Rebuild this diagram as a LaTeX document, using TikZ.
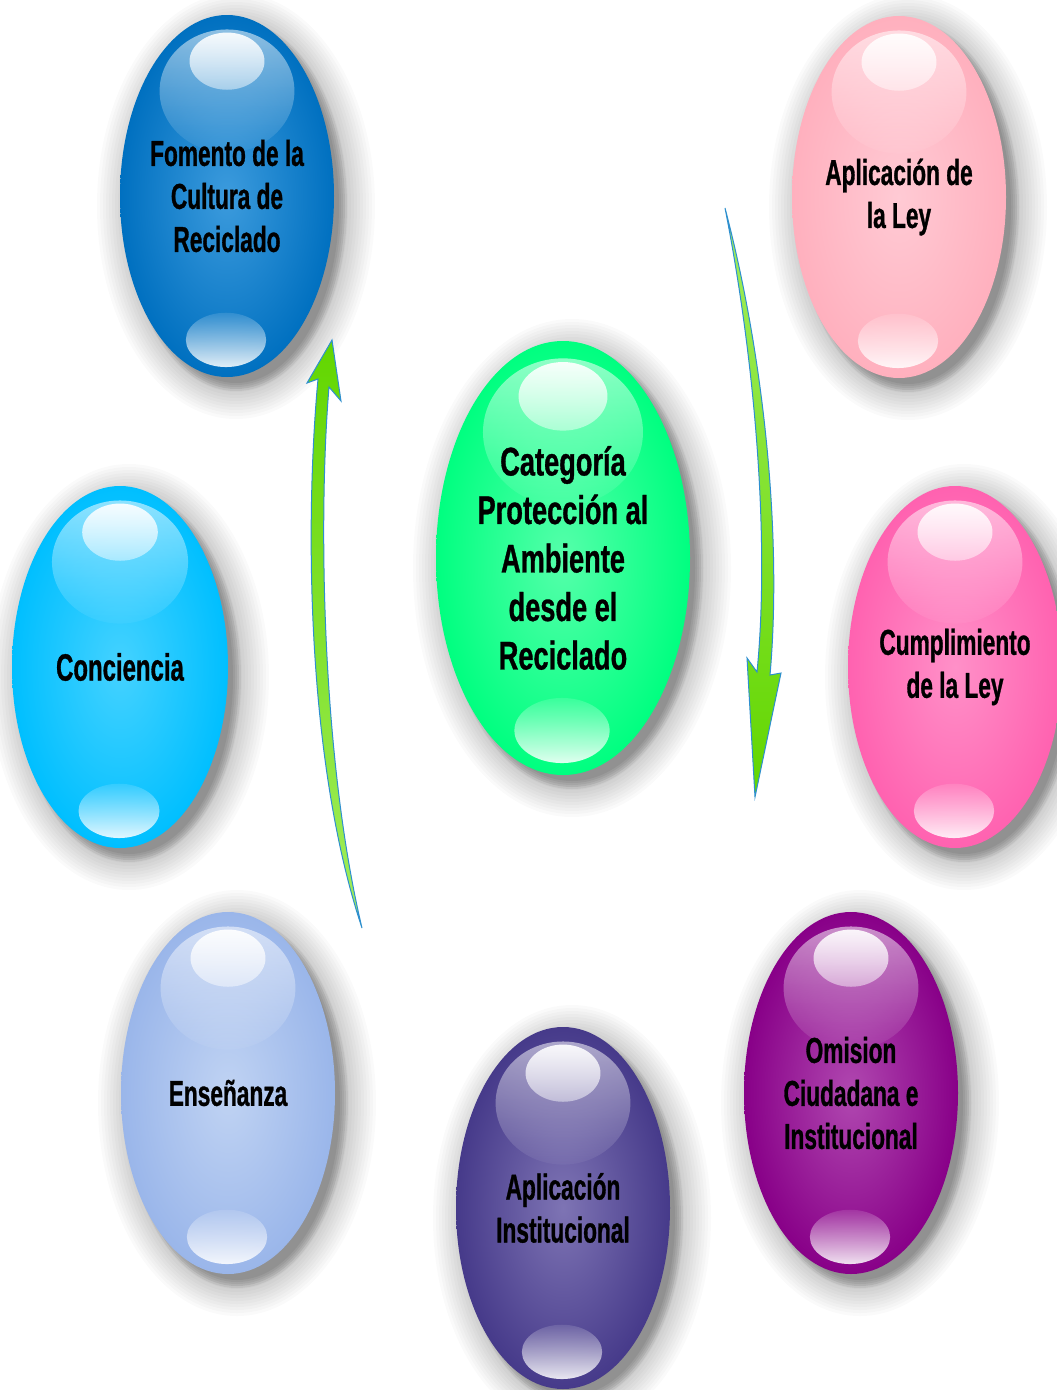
\documentclass[tikz,border=0pt]{standalone}
\usepackage{fontspec}
\newfontfamily\condfont{Liberation Sans}[FakeStretch=0.63, FakeBold=0.8]
\newfontfamily\corefont{Liberation Sans}[FakeStretch=0.68, FakeBold=0.8]
\usetikzlibrary{fadings}

% glossy highlight fadings
\tikzfading[name=glowtop,  top color=transparent!45, bottom color=transparent!96]
\tikzfading[name=glowcap,  top color=transparent!8,  bottom color=transparent!55]
\tikzfading[name=glowbase, top color=transparent!88, bottom color=transparent!12]

% bubble colours: rim / centre
\definecolor{fomE}{HTML}{0070C0}   \definecolor{fomC}{HTML}{3C9BDD}
\definecolor{leyE}{HTML}{FFB0BE}   \definecolor{leyC}{HTML}{FFCAD4}
\definecolor{conE}{HTML}{00BFFF}   \definecolor{conC}{HTML}{45D2FF}
\definecolor{coreE}{HTML}{00FF80}  \definecolor{coreC}{HTML}{55FFAA}
\definecolor{cumE}{HTML}{FF62B0}   \definecolor{cumC}{HTML}{FF90C8}
\definecolor{ensE}{HTML}{9AB6EA}   \definecolor{ensC}{HTML}{C0D3F3}
\definecolor{omiE}{HTML}{880088}   \definecolor{omiC}{HTML}{B048B0}
\definecolor{insE}{HTML}{463A8A}   \definecolor{insC}{HTML}{7E74B4}
\definecolor{arrowrim}{HTML}{2E8FD0}
\definecolor{arrowdark}{HTML}{62D600}
\definecolor{arrowlight}{HTML}{A2EE5C}

\tikzset{
  hazelayer/.style={fill=black, fill opacity=0.018},
  rimlayer/.style={fill=black, fill opacity=0.06},
  labeltext/.style={align=center, inner sep=0pt, text=black},
  smalltext/.style={labeltext, font=\condfont\bfseries\fontsize{36}{43}\selectfont},
  wordtext/.style={labeltext, font=\condfont\bfseries\fontsize{38}{43}\selectfont},
  coretext/.style={labeltext, font=\corefont\bfseries\fontsize{40}{48.5}\selectfont},
  arrowbody/.style={draw=arrowrim, line width=1pt, line join=miter},
}

% \bubble{name}{cx}{cy}{rx}{ry}{rim colour}{centre colour}{text style}{text}
\newcommand\bubble[9]{%
  % soft drop shadow: wide faint haze plus a darker rim
  \foreach \d in {32,29,...,2}{
    \fill[hazelayer] ({#2+9},{#3+10}) ellipse [x radius={#4+\d}, y radius={#5+\d}];
  }
  \foreach \d in {4,2,...,-4}{
    \fill[rimlayer] ({#2+9},{#3+10}) ellipse [x radius={#4+\d}, y radius={#5+\d}];
  }
  \shade[inner color=#7, outer color=#6] (#2,#3) ellipse [x radius=#4, y radius=#5];
  \fill[white, path fading=glowtop] ({#2},{#3-0.58*#5}) ellipse [x radius={0.63*#4}, y radius={0.34*#5}];
  \fill[white, path fading=glowcap] ({#2},{#3-0.745*#5}) ellipse [x radius={0.35*#4}, y radius={0.158*#5}];
  \fill[white, path fading=glowbase] ({#2-1},{#3+0.795*#5}) ellipse [x radius={0.375*#4}, y radius={0.15*#5}];
  \node[#8] (#1) at (#2,#3) {#9};
}

\begin{document}
\begin{tikzpicture}[x=1pt, y=-1pt]
  \useasboundingbox (0,0) rectangle (1057,1390);
  \fill[white] (0,0) rectangle (1057,1390);
  \clip (0,0) rectangle (1057,1390);

  \bubble{fomento}{227}{196}{107}{181}{fomE}{fomC}{smalltext}{Fomento de la\\Cultura de\\Reciclado}
  \bubble{aplley}{899}{197}{107}{181}{leyE}{leyC}{smalltext}{Aplicación de\\la Ley}
  \bubble{conciencia}{120}{667}{108}{181}{conE}{conC}{wordtext}{Conciencia}
  \bubble{core}{563}{558}{127}{217}{coreE}{coreC}{coretext}{Categoría\\Protección al\\Ambiente\\desde el\\Reciclado}
  \bubble{cumple}{955}{667}{107}{181}{cumE}{cumC}{smalltext}{Cumplimiento\\de la Ley}
  \bubble{ensenanza}{228}{1093}{107}{181}{ensE}{ensC}{smalltext}{Enseñanza}
  \bubble{omision}{851}{1093}{107}{181}{omiE}{omiC}{smalltext}{Omision\\Ciudadana e\\Institucional}
  \bubble{aplinst}{563}{1208}{107}{181}{insE}{insC}{smalltext}{Aplicación\\Institucional}

  % rising arrow on the left
  \coordinate (lt) at (362,928);
  \coordinate (lnr) at (329,387);
  \coordinate (lwr) at (341,401);
  \coordinate (ltip) at (332,340);
  \coordinate (lwl) at (307,383);
  \coordinate (lnl) at (318,379);
  \path[arrowbody, top color=arrowdark, bottom color=arrowlight]
    (lt) .. controls (322,760) and (318,520) .. (lnr) -- (lwr) -- (ltip)
    -- (lwl) -- (lnl) .. controls (305,520) and (306,760) .. (lt) -- cycle;

  % falling arrow on the right
  \coordinate (rt) at (725,208);
  \coordinate (rnr) at (770,675);
  \coordinate (rwr) at (781,673);
  \coordinate (rtip) at (755,797);
  \coordinate (rwl) at (747,658);
  \coordinate (rnl) at (757,672);
  \path[arrowbody, top color=arrowlight, bottom color=arrowdark]
    (rt) .. controls (765,360) and (782,540) .. (rnr) -- (rwr) -- (rtip)
    -- (rwl) -- (rnl) .. controls (770,540) and (755,360) .. (rt) -- cycle;
\end{tikzpicture}
\end{document}
